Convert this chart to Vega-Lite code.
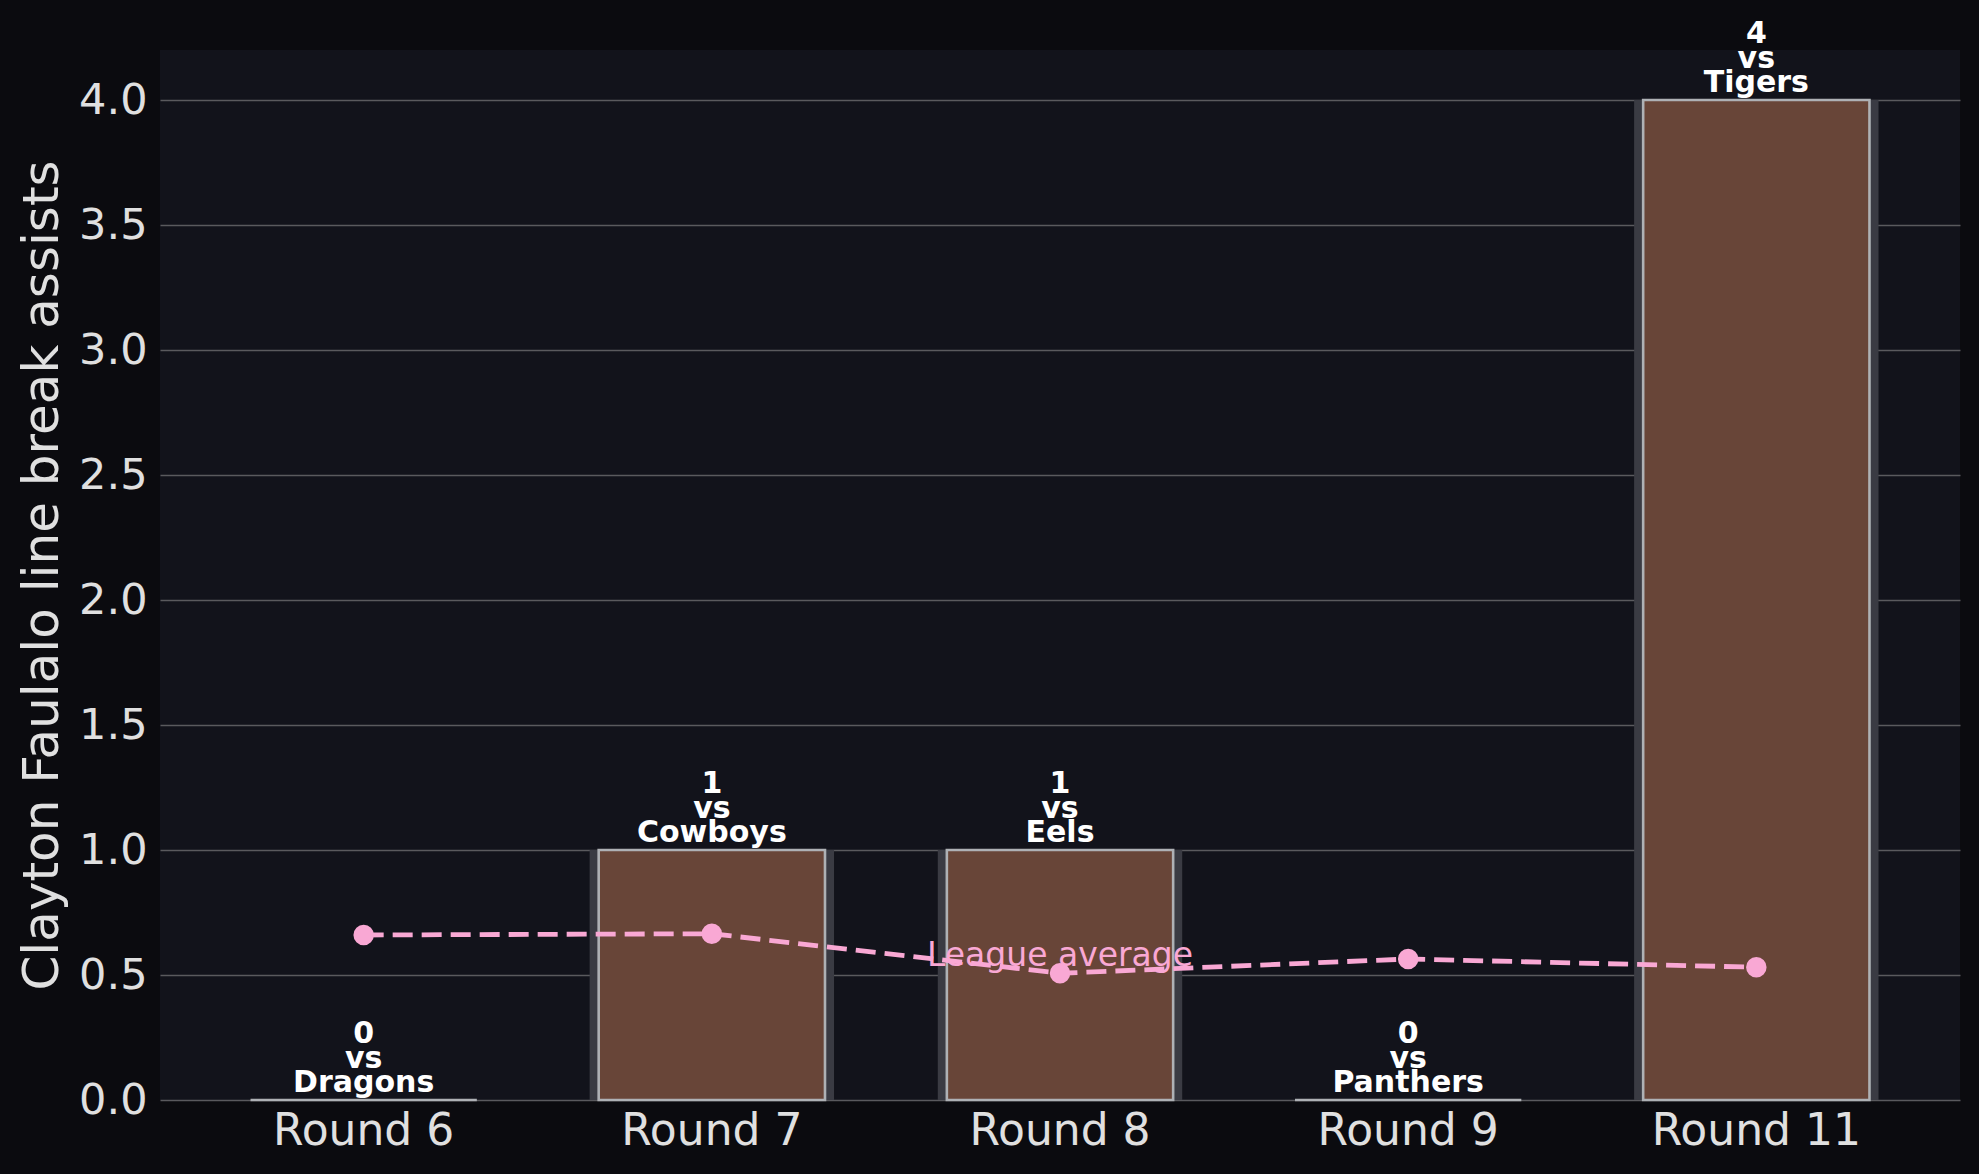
{
  "$schema": "https://vega.github.io/schema/vega-lite/v6.json",
  "autosize": "none",
  "width": 1800,
  "height": 1050,
  "padding": {"left": 160, "top": 50, "right": 19, "bottom": 74},
  "background": "#0b0b0f",
  "config": {
    "view": {"fill": "#12131b", "stroke": null},
    "font": "DejaVu Sans"
  },
  "data": {
    "values": [
      {"round": "Round 6", "opponent": "Dragons", "assists": 0, "league_avg": 0.66, "label": "0\nvs\nDragons"},
      {"round": "Round 7", "opponent": "Cowboys", "assists": 1, "league_avg": 0.665, "label": "1\nvs\nCowboys"},
      {"round": "Round 8", "opponent": "Eels", "assists": 1, "league_avg": 0.507, "label": "1\nvs\nEels"},
      {"round": "Round 9", "opponent": "Panthers", "assists": 0, "league_avg": 0.564, "label": "0\nvs\nPanthers"},
      {"round": "Round 11", "opponent": "Tigers", "assists": 4, "league_avg": 0.531, "label": "4\nvs\nTigers"}
    ]
  },
  "encoding": {
    "x": {
      "field": "round",
      "type": "nominal",
      "sort": null,
      "scale": {"paddingInner": 0.35, "paddingOuter": 0.26},
      "axis": {
        "title": null,
        "labelAngle": 0,
        "ticks": false,
        "domain": false,
        "labelFontSize": 44,
        "labelColor": "#e0e0e0",
        "labelPadding": 9,
        "labelBaseline": "top",
        "labelLimit": 0
      }
    }
  },
  "layer": [
    {
      "mark": {"type": "bar", "width": {"band": 1.08}, "color": "#3a3b43"},
      "encoding": {
        "y": {
          "field": "assists",
          "type": "quantitative",
          "scale": {"domain": [0, 4.2], "nice": false},
          "axis": {
            "title": "Clayton Faulalo line break assists",
            "titleFontSize": 50,
            "titleFontWeight": "normal",
            "titleColor": "#e0e0e0",
            "titleAngle": -90,
            "titleX": -103,
            "titleY": 525,
            "titleAlign": "center",
            "titleBaseline": "alphabetic",
            "values": [0, 0.5, 1, 1.5, 2, 2.5, 3, 3.5, 4],
            "format": ".1f",
            "labelFontSize": 43,
            "labelColor": "#e0e0e0",
            "labelPadding": 13,
            "ticks": false,
            "domain": false,
            "grid": true,
            "gridColor": "#5a5a5e",
            "gridWidth": 1.6
          }
        }
      }
    },
    {
      "mark": {"type": "bar", "color": "#684538", "stroke": "#aeb1b5", "strokeWidth": 2.6},
      "encoding": {
        "y": {"field": "assists", "type": "quantitative"}
      }
    },
    {
      "mark": {"type": "line", "color": "#f9a8d4", "strokeWidth": 4.8, "strokeDash": [20, 9]},
      "encoding": {
        "y": {"field": "league_avg", "type": "quantitative"}
      }
    },
    {
      "mark": {"type": "point", "filled": true, "opacity": 1, "color": "#f9a8d4", "size": 420},
      "encoding": {
        "y": {"field": "league_avg", "type": "quantitative"}
      }
    },
    {
      "mark": {"type": "text", "fontSize": 30, "fontWeight": "bold", "color": "#ffffff", "lineBreak": "\n", "lineHeight": 24.5, "baseline": "bottom", "align": "center", "dy": -51},
      "encoding": {
        "y": {"field": "assists", "type": "quantitative"},
        "text": {"field": "label", "type": "nominal"}
      }
    },
    {
      "transform": [{"filter": "datum.round == 'Round 8'"}],
      "mark": {"type": "text", "fontSize": 33, "color": "#f9a8d4", "baseline": "bottom", "align": "center"},
      "encoding": {
        "y": {"field": "league_avg", "type": "quantitative"},
        "text": {"value": "League average"}
      }
    }
  ]
}
